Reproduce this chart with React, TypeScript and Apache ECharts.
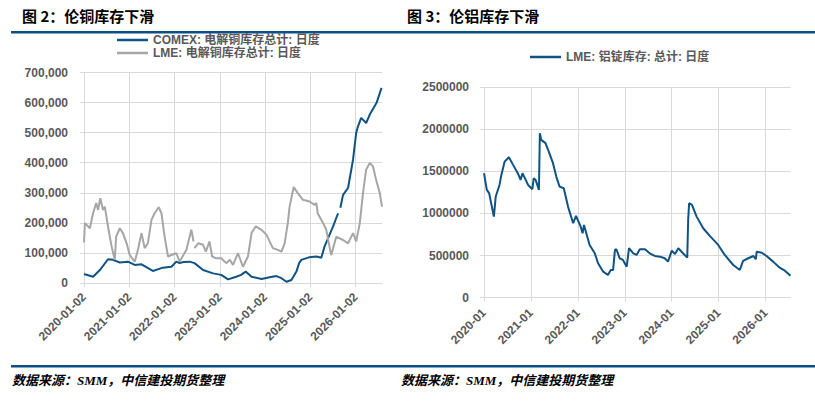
import React, { useEffect, useRef } from "react";
import * as echarts from "echarts";

// Time values are decimal years (2020.0 = start of 2020)
const comexTime = [
  2020.0, 2020.2, 2020.35, 2020.53, 2020.64, 2020.79, 2020.97, 2021.12, 2021.27, 2021.52,
  2021.74, 2021.93, 2022.04, 2022.11, 2022.2, 2022.33, 2022.44, 2022.63, 2022.85, 2023.03,
  2023.18, 2023.36, 2023.47, 2023.57, 2023.7, 2023.92, 2024.1, 2024.25, 2024.36, 2024.47,
  2024.58, 2024.69, 2024.75, 2024.8, 2024.98, 2025.13, 2025.24, 2025.31, 2025.5, 2025.61,
  2025.635, 2025.66, 2025.72, 2025.83, 2025.94, 2026.01, 2026.05, 2026.12, 2026.23, 2026.31,
  2026.46, 2026.57,
];
const comexCopper = [
  30000, 21000, 43000, 79000, 77000, 68000, 71000, 60000, 62000, 40000,
  51000, 54000, 71000, 66000, 70000, 71000, 66000, 43000, 32000, 27000,
  12000, 21000, 27000, 38000, 21000, 13000, 19000, 23000, 16000, 4000,
  10000, 38000, 66000, 77000, 86000, 88000, 84000, 121000, 188000, 232000,
  null, 250000, 293000, 316000, 410000, 499000, 521000, 549000, 532000, 560000,
  599000, 649000,
];

const lmeCopperTime = [
  2020.0, 2020.02, 2020.13, 2020.2, 2020.27, 2020.31, 2020.36, 2020.42, 2020.46, 2020.53,
  2020.61, 2020.68, 2020.71, 2020.79, 2020.86, 2020.94, 2021.01, 2021.12, 2021.19, 2021.27,
  2021.34, 2021.41, 2021.49, 2021.56, 2021.65, 2021.71, 2021.78, 2021.855, 2021.93, 2022.04,
  2022.11, 2022.26, 2022.37, 2022.42, 2022.43, 2022.44, 2022.52, 2022.63, 2022.69, 2022.77,
  2022.83, 2022.92, 2023.03, 2023.14, 2023.22, 2023.29, 2023.4, 2023.51, 2023.62, 2023.7,
  2023.79, 2023.92, 2024.03, 2024.17, 2024.28, 2024.36, 2024.43, 2024.5, 2024.54, 2024.63,
  2024.72, 2024.83, 2024.98, 2025.09, 2025.13, 2025.16, 2025.28, 2025.35, 2025.42, 2025.46,
  2025.57, 2025.72, 2025.83, 2025.94, 2026.01, 2026.09, 2026.16, 2026.23, 2026.31, 2026.38,
  2026.45, 2026.53, 2026.58,
];
const lmeCopper = [
  135000, 199000, 182000, 232000, 266000, 243000, 282000, 243000, 254000, 188000,
  121000, 77000, 154000, 182000, 166000, 132000, 93000, 71000, 110000, 166000,
  116000, 132000, 210000, 232000, 252000, 232000, 154000, 88000, 93000, 99000,
  71000, 110000, 177000, 138000, null, 116000, 132000, 127000, 104000, 138000,
  88000, 82000, 82000, 66000, 77000, 60000, 99000, 54000, 88000, 166000,
  188000, 177000, 160000, 116000, 110000, 104000, 132000, 199000, 254000, 319000,
  299000, 277000, 271000, 260000, 266000, 232000, 199000, 177000, 121000, 93000,
  154000, 143000, 132000, 166000, 138000, 199000, 299000, 377000, 399000, 388000,
  343000, 299000, 254000,
];

const aluTime = [
  2020.0, 2020.06, 2020.11, 2020.21, 2020.25, 2020.33, 2020.37, 2020.44, 2020.53, 2020.62,
  2020.72, 2020.78, 2020.82, 2020.94, 2021.03, 2021.06, 2021.1, 2021.17, 2021.19, 2021.22,
  2021.31, 2021.38, 2021.47, 2021.54, 2021.61, 2021.7, 2021.79, 2021.9, 2021.96, 2022.06,
  2022.1, 2022.13, 2022.25, 2022.36, 2022.43, 2022.54, 2022.64, 2022.7, 2022.75, 2022.79,
  2022.82, 2022.89, 2022.96, 2023.04, 2023.09, 2023.18, 2023.25, 2023.32, 2023.43, 2023.53,
  2023.64, 2023.75, 2023.85, 2023.92, 2024.0, 2024.07, 2024.14, 2024.24, 2024.33, 2024.35,
  2024.37, 2024.43, 2024.53, 2024.67, 2024.81, 2024.99, 2025.13, 2025.31, 2025.45, 2025.52,
  2025.63, 2025.74, 2025.79, 2025.81, 2025.92, 2026.02, 2026.16, 2026.3, 2026.41, 2026.53,
];
const lmeAlu = [
  1477000, 1279000, 1240000, 962000, 1200000, 1338000, 1457000, 1615000, 1667000, 1576000,
  1477000, 1398000, 1477000, 1338000, 1287000, 1418000, 1398000, 1279000, 1952000, 1873000,
  1834000, 1734000, 1596000, 1437000, 1318000, 1299000, 1081000, 884000, 970000, 843000,
  765000, 863000, 626000, 527000, 409000, 309000, 270000, 329000, 329000, 566000,
  575000, 468000, 448000, 368000, 587000, 527000, 507000, 575000, 575000, 527000,
  495000, 487000, 468000, 428000, 558000, 519000, 587000, 527000, 475000, 923000,
  1121000, 1101000, 962000, 824000, 733000, 626000, 507000, 388000, 329000, 436000,
  468000, 495000, 456000, 546000, 534000, 495000, 428000, 356000, 321000, 261000,
];

const tickYears = [2020, 2021, 2022, 2023, 2024, 2025, 2026];

const nameComex = "COMEX: 电解铜库存总计: 日度";
const nameLmeCu = "LME: 电解铜库存总计: 日度";
const nameLmeAl = "LME: 铝锭库存: 总计: 日度";

const BLUE = "#0F5385";
const GREY = "#A6A6A6";
const GRID = "#D9D9D9";
const LABEL = "#595959";
const HEAD = "#0B4F84";
const FONT = "'Liberation Sans', 'Noto Sans CJK SC', sans-serif";

const pair = (ts: number[], vs: (number | null)[]) =>
  ts.map((t, i) => [t, vs[i] === null ? "-" : vs[i]]);

const labelStyle = {
  color: LABEL,
  fontSize: 12,
  fontWeight: "bold" as const,
  fontFamily: FONT,
};

function makeX(gridIndex: number, fmt: (v: number) => string, margin: number) {
  return {
    type: "value" as const,
    gridIndex,
    min: 2020,
    max: "dataMax",
    interval: 1,
    axisLine: { show: true, lineStyle: { color: GRID, width: 1 } },
    axisTick: { show: true, length: 4, lineStyle: { color: GRID }, customValues: tickYears },
    axisLabel: { ...labelStyle, customValues: tickYears, rotate: 45, margin, formatter: fmt },
    splitLine: { show: true, lineStyle: { color: GRID, width: 1 } },
  };
}

function makeY(gridIndex: number, max: number, interval: number, fmt: (v: number) => string, margin: number) {
  return {
    type: "value" as const,
    gridIndex,
    min: 0,
    max,
    interval,
    axisLine: { show: false },
    axisTick: { show: true, length: 4, lineStyle: { color: GRID } },
    axisLabel: { ...labelStyle, margin, formatter: fmt },
    splitLine: { show: true, lineStyle: { color: GRID, width: 1 } },
  };
}

const legendText = { ...labelStyle, fontSize: 12, lineHeight: 12 };

export default function App() {
  const ref = useRef<HTMLDivElement>(null);
  useEffect(() => {
    if (!ref.current) return;
    const chart = echarts.init(ref.current, undefined, { renderer: "svg" });
    chart.setOption({
      animation: false,
      backgroundColor: "#ffffff",
      grid: [
        { left: 84, top: 72.5, width: 298, height: 210.5, outerBoundsMode: "none", containLabel: false },
        { left: 484, top: 87, width: 306.5, height: 210.7, outerBoundsMode: "none", containLabel: false },
      ],
      xAxis: [
        makeX(0, (v: number) => `${v}-01-02`, 12),
        makeX(1, (v: number) => `${v}-01`, 13),
      ],
      yAxis: [
        makeY(0, 700000, 100000, (v: number) => v.toLocaleString("en-US"), 16),
        makeY(1, 2500000, 500000, (v: number) => String(v), 15),
      ],
      legend: [
        {
          data: [
            { name: nameComex, itemStyle: { color: BLUE } },
            { name: nameLmeCu, itemStyle: { color: GREY } },
          ],
          orient: "vertical",
          left: 117,
          top: 34,
          icon: "rect",
          itemWidth: 31,
          itemHeight: 2.5,
          itemGap: 1,
          padding: 0,
          textStyle: legendText,
        },
        {
          data: [{ name: nameLmeAl, itemStyle: { color: BLUE } }],
          left: 530,
          top: 51,
          icon: "rect",
          itemWidth: 31,
          itemHeight: 2.5,
          padding: 0,
          textStyle: legendText,
        },
      ],
      series: [
        {
          name: nameComex,
          type: "line",
          xAxisIndex: 0,
          yAxisIndex: 0,
          data: pair(comexTime, comexCopper),
          symbol: "none",
          lineStyle: { color: BLUE, width: 2 },
          itemStyle: { color: BLUE },
        },
        {
          name: nameLmeCu,
          type: "line",
          xAxisIndex: 0,
          yAxisIndex: 0,
          data: pair(lmeCopperTime, lmeCopper),
          symbol: "none",
          lineStyle: { color: GREY, width: 2 },
          itemStyle: { color: GREY },
        },
        {
          name: nameLmeAl,
          type: "line",
          xAxisIndex: 1,
          yAxisIndex: 1,
          data: pair(aluTime, lmeAlu),
          symbol: "none",
          lineStyle: { color: BLUE, width: 2 },
          itemStyle: { color: BLUE },
        },
      ],
      graphic: [
        { type: "rect", shape: { x: 11, y: 31, width: 804, height: 2.5 }, style: { fill: HEAD } },
        { type: "rect", shape: { x: 11, y: 365, width: 804, height: 2.5 }, style: { fill: HEAD } },
        {
          type: "text",
          x: 22,
          y: 15,
          style: {
            text: "图 2：伦铜库存下滑",
            fill: "#000",
            fontSize: 15,
            fontWeight: "bold",
            fontFamily: "'Noto Sans CJK SC', sans-serif",
            verticalAlign: "middle",
          },
        },
        {
          type: "text",
          x: 407,
          y: 15,
          style: {
            text: "图 3：伦铝库存下滑",
            fill: "#000",
            fontSize: 15,
            fontWeight: "bold",
            fontFamily: "'Noto Sans CJK SC', sans-serif",
            verticalAlign: "middle",
          },
        },
        {
          type: "text",
          x: 12,
          y: 380,
          style: {
            text: "数据来源：SMM，中信建投期货整理",
            fill: "#000",
            fontSize: 13,
            fontWeight: "bold",
            fontStyle: "italic",
            fontFamily: "'Liberation Serif', 'Noto Sans CJK SC', serif",
            verticalAlign: "middle",
          },
        },
        {
          type: "text",
          x: 401,
          y: 380,
          style: {
            text: "数据来源：SMM，中信建投期货整理",
            fill: "#000",
            fontSize: 13,
            fontWeight: "bold",
            fontStyle: "italic",
            fontFamily: "'Liberation Serif', 'Noto Sans CJK SC', serif",
            verticalAlign: "middle",
          },
        },
      ],
    });
    return () => chart.dispose();
  }, []);
  return (
    <div
      ref={ref}
      style={{ position: "fixed", left: 0, top: 0, width: 815, height: 405, background: "#fff" }}
    />
  );
}
